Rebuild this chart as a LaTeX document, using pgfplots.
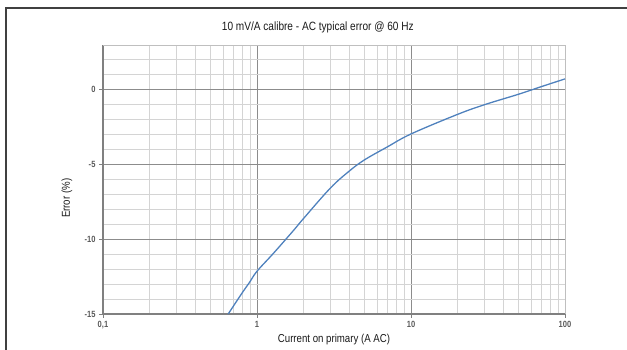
\documentclass[border=0pt]{standalone}
\usepackage{fontspec}
\setmainfont{Liberation Sans}[FakeStretch=0.84]
\usepackage{pgfplots}
\pgfplotsset{compat=1.18}
\definecolor{curve}{RGB}{79,129,189}
\begin{document}
\begin{tikzpicture}[x=1pt,y=1pt]
\useasboundingbox (0,0) rectangle (627,350);
\draw[line width=2pt, black!75] (6,0) -- (6,342) -- (627,342);
\begin{axis}[
  at={(103pt,36pt)}, anchor=south west, scale only axis,
  width=462pt, height=269pt,
  xmode=log, log basis x=10,
  xmin=0.1, xmax=100, ymin=-15, ymax=2.93,
  xtick={0.1,1,10,100}, xticklabels={{0,1},1,10,100},
  minor xtick={0.2,0.3,0.4,0.5,0.6,0.7,0.8,0.9,2,3,4,5,6,7,8,9,20,30,40,50,60,70,80,90},
  ytick={-15,-10,-5,0},
  minor ytick={-14,-13,-12,-11,-9,-8,-7,-6,-4,-3,-2,-1,1,2},
  grid=both,
  major grid style={black!45, line width=0.7pt},
  minor grid style={black!17, line width=0.6pt},
  axis line style={black!40, line width=0.8pt},
  axis x line*=bottom, axis y line*=left,
  every outer x axis line/.append style={black!50, line width=1.2pt},
  every outer y axis line/.append style={black!50, line width=1.5pt},
  tick align=outside, major tick length=4pt, minor tick length=0pt,
  every tick/.style={black!50, line width=0.8pt},
  ticklabel style={font=\fontsize{9}{10}\selectfont\bfseries, text=black!65},
  /pgf/number format/assume math mode=true,
  xlabel={Current on primary (A AC)},
  ylabel={Error (\%)},
  xlabel style={font=\fontsize{11.5}{12}\selectfont, text=black!90, at={(axis description cs:0.5,0)}, anchor=base, yshift=-29pt},
  ylabel style={font=\fontsize{11.5}{12}\selectfont, text=black!90, at={(axis description cs:0,0.43)}, anchor=base, yshift=33pt},
  title={10 mV/A calibre - AC typical error @ 60 Hz},
  title style={font=\fontsize{12}{13}\selectfont, text=black!90, at={(axis description cs:0.465,1)}, anchor=base, yshift=8pt},
  clip=false,
]
\draw[black!25, line width=0.6pt] (rel axis cs:0,1) -- (rel axis cs:1,1) -- (rel axis cs:1,0);
\addplot[curve, line width=1.3pt, smooth, tension=0.6] coordinates {
(0.65,-15) (0.7,-14.5) (0.8,-13.6) (0.9,-12.85) (1,-12.15) (1.28,-10.95) (1.72,-9.45) (2,-8.65)
(3,-6.6) (4,-5.45) (5,-4.72) (7,-3.87) (10,-3.0) (20,-1.7) (30,-1.05) (50,-0.35) (70,0.15) (100,0.67)
};
\end{axis}
\end{tikzpicture}
\end{document}
